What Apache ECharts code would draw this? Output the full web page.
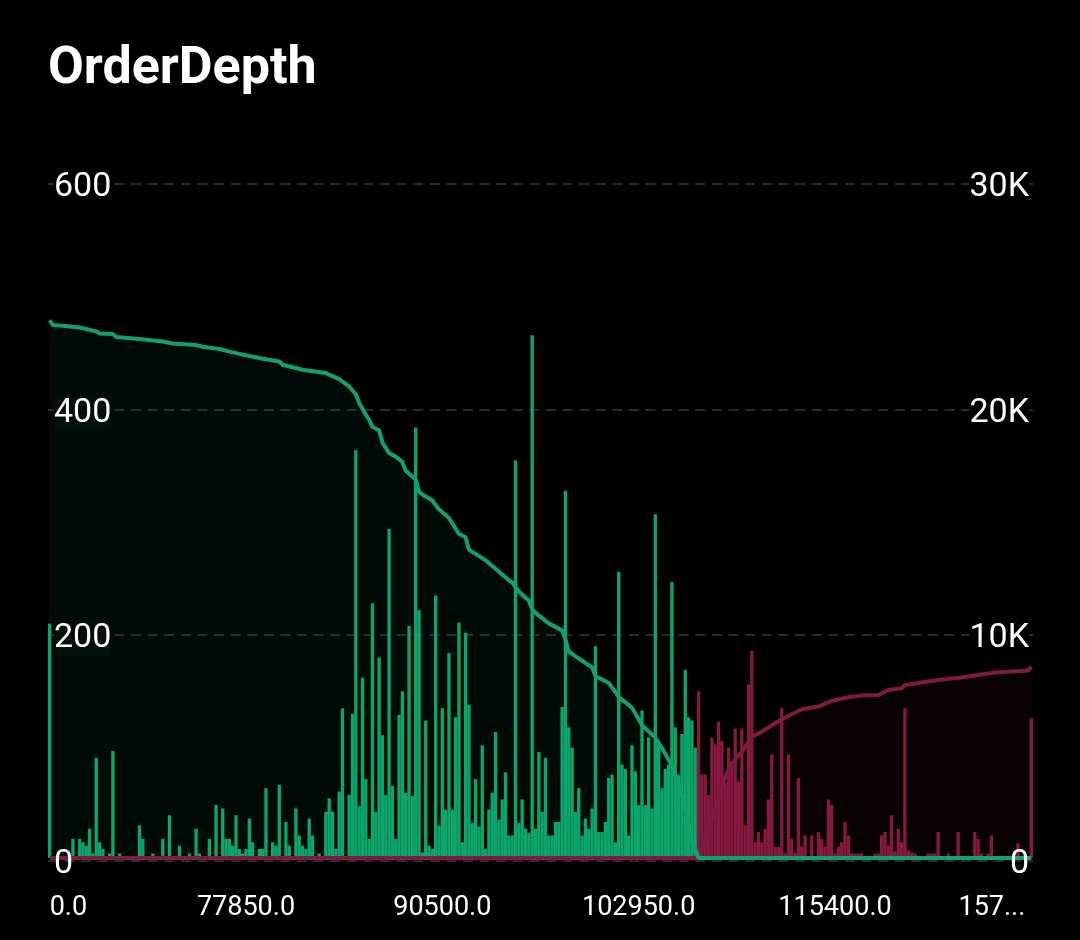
<!DOCTYPE html>
<html lang="en">
  <head>
    <meta charset="UTF-8" />
    <title>OrderDepth</title>
    <style>
      html, body { margin: 0; background: #000; }
      #main { width: 1080px; height: 940px; }
    </style>
  </head>
  <body>
    <script src="https://cdn.jsdelivr.net/npm/echarts@6/dist/echarts.min.js"></script>
    <div id="main"></div>
    <script>
      // tick labels sit every 59 price levels
      const tickLabels = ['0.0', '77850.0', '90500.0', '102950.0', '115400.0', '157...']
      const tickStep = 59
      const levelCount = 296

      // volume per price level
      const buyVolume = [
        208, 0, 0, 0, 0, 0, 0, 17, 0, 17, 14, 11, 26, 4, 89, 14, 8, 1, 4, 95,
        0, 4, 0, 0, 1, 0, 1, 29, 17, 0, 0, 4, 1, 0, 17, 1, 38, 1, 0, 11,
        1, 0, 4, 0, 26, 4, 0, 0, 17, 0, 47, 0, 44, 17, 17, 11, 38, 8, 4, 8,
        35, 14, 0, 8, 8, 62, 0, 14, 11, 65, 1, 32, 11, 0, 44, 20, 11, 8, 35, 20,
        0, 4, 1, 41, 53, 41, 8, 59, 133, 1, 56, 128, 362, 46, 160, 70, 17, 226, 41, 178,
        109, 56, 292, 64, 17, 127, 148, 58, 206, 55, 382, 220, 5, 122, 11, 8, 233, 29, 133, 43,
        182, 43, 125, 209, 14, 200, 136, 31, 70, 28, 100, 8, 43, 58, 112, 34, 52, 76, 20, 20,
        353, 31, 52, 26, 22, 464, 26, 94, 41, 89, 20, 20, 32, 32, 134, 326, 116, 98, 41, 62,
        20, 35, 26, 44, 188, 23, 23, 32, 71, 74, 14, 254, 83, 79, 20, 100, 77, 47, 131, 47,
        107, 44, 305, 100, 62, 79, 83, 245, 116, 74, 110, 167, 125, 122, 98
      ]
      const sellVolume = [
        148, 74, 74, 56, 107, 101, 121, 104, 67, 98, 86, 115, 68, 115, 29, 154, 184, 14, 23, 14,
        26, 52, 92, 10, 10, 133, 4, 92, 17, 5, 71, 10, 20, 2, 20, 0, 23, 17, 10, 52,
        47, 4, 10, 14, 32, 20, 4, 4, 4, 4, 0, 0, 0, 4, 4, 20, 23, 11, 38, 6,
        26, 14, 133, 7, 5, 4, 0, 0, 0, 4, 4, 4, 23, 0, 0, 4, 0, 0, 23, 0,
        0, 0, 0, 23, 17, 4, 0, 4, 20, 0, 0, 0, 0, 0, 0, 0, 13, 0, 0, 0, 124
      ]
      const sellStart = 195

      // cumulative depth, read at the visible bends of each curve
      const buyDepthLevels = [
        0, 1, 4, 9, 14, 15, 19, 20, 27, 34, 37, 44, 46, 51, 56, 64, 69, 70, 76, 83, 87, 90, 92, 93, 95,
        96, 97, 99, 100, 102, 104, 106, 107, 110, 111, 112, 115, 117, 120, 123, 125, 126, 131, 134, 138, 139, 141, 144,
        145, 146, 150, 154, 155, 156, 159, 163, 164, 168, 170, 171, 175, 178, 182, 184, 187, 190, 193, 195, 295
      ]
      const buyDepth = [
        23856, 23650, 23620, 23546, 23369, 23280, 23251, 23119, 23030, 22925, 22835, 22763, 22688, 22586, 22407, 22156, 22036, 21889, 21667, 21520, 21254, 20926, 20583, 20195, 19681,
        19447, 19136, 18980, 18435, 17967, 17812, 17577, 17187, 16800, 16253, 16130, 15864, 15473, 15087, 14386, 14230, 13684, 13213, 12832, 12325, 12232, 11815, 11424,
        11033, 10878, 10412, 10101, 9710, 9164, 8853, 8463, 8076, 7766, 7370, 7140, 6673, 5892, 5350, 4884, 4103, 2800, 800, 0, 0
      ]
      const sellDepthLevels = [
        0, 195, 197, 200, 203, 205, 208, 211, 214, 218, 220, 223, 226, 231, 235, 240, 244, 249, 252, 256, 257, 267, 274, 284, 294, 295
      ]
      const sellDepth = [
        0, 0, 800, 2200, 3610, 4203, 4722, 5387, 5608, 5979, 6157, 6379, 6601, 6719, 6971, 7133, 7208, 7237, 7459, 7533, 7681, 7903, 8006, 8229, 8316, 8496
      ]

      const green = '#0aa66b'
      const greenLine = '#12a16e'
      const red = '#86193f'
      const redLine = '#7f1a41'

      const categories = Array.from({ length: levelCount }, (_, i) => i)
      const pairs = (levels, values) => levels.map((level, i) => [level, values[i]])

      const leftLabel = { '600': 'black', '400': 'tint', '200': 'tint' }
      const labelStyle = {
        black: { backgroundColor: '#000', color: '#fff', fontSize: 34, fontFamily: 'Roboto' },
        tint: { backgroundColor: '#030f09', color: '#fff', fontSize: 34, fontFamily: 'Roboto' }
      }

      const chart = echarts.init(document.getElementById('main'))
      chart.setOption({
        backgroundColor: '#000',
        animation: false,
        title: {
          text: 'OrderDepth',
          left: 43,
          top: 39,
          textStyle: { color: '#fff', fontFamily: 'Roboto', fontWeight: 'bold', fontSize: 52 }
        },
        grid: [
          { left: 48, right: 47, top: 182, bottom: 82 },
          { left: 48, right: 47, top: 184, bottom: 79.5 }
        ],
        xAxis: [
          {
            type: 'category',
            data: categories,
            axisLine: { show: false },
            axisTick: { show: false },
            axisLabel: {
              interval: tickStep - 1,
              margin: 37,
              color: '#fff',
              fontSize: 27,
              fontFamily: 'Roboto',
              alignMinLabel: 'left',
              alignMaxLabel: 'right',
              formatter: (_, index) => {
                const text = tickLabels[index / tickStep]
                return index === levelCount - 1 ? `{last|${text}}` : text
              },
              rich: { last: { color: '#fff', fontSize: 27, fontFamily: 'Roboto', padding: [0, 6, 0, 0] } }
            }
          },
          { type: 'category', gridIndex: 1, data: categories, show: false }
        ],
        yAxis: [
          { type: 'value', min: 0, max: 600, show: false },
          { type: 'value', min: 0, max: 30000, show: false },
          // dashed lines only, under the marks
          {
            type: 'value',
            gridIndex: 1,
            min: 0,
            max: 600,
            interval: 200,
            z: 0,
            axisLine: { show: false },
            axisTick: { show: false },
            axisLabel: { show: false },
            splitLine: { lineStyle: { color: '#272a2e', width: 2, type: [10, 6.6] } }
          },
          // labels go above the marks
          {
            type: 'value',
            gridIndex: 1,
            position: 'left',
            min: 0,
            max: 600,
            interval: 200,
            z: 10,
            axisLine: { show: false },
            axisTick: { show: false },
            splitLine: { show: false },
            axisLabel: {
              inside: true,
              margin: 6,
              padding: [7, 0, 0, 0],
              color: '#fff',
              fontSize: 34,
              fontFamily: 'Roboto',
              formatter: v => (v ? `{${leftLabel[v]}|${v}}` : '0'),
              rich: labelStyle
            }
          },
          {
            type: 'value',
            gridIndex: 1,
            position: 'right',
            min: 0,
            max: 30000,
            interval: 10000,
            z: 10,
            axisLine: { show: false },
            axisTick: { show: false },
            splitLine: { show: false },
            axisLabel: {
              inside: true,
              margin: 4,
              padding: [7, 0, 0, 0],
              color: '#fff',
              fontSize: 34,
              fontFamily: 'Roboto',
              formatter: v => (v ? `{black|${v / 1000}K}` : '0'),
              rich: labelStyle
            }
          }
        ],
        series: [
          {
            type: 'line',
            yAxisIndex: 1,
            data: pairs(sellDepthLevels, sellDepth),
            symbol: 'none',
            lineStyle: { color: redLine, width: 4 },
            areaStyle: { color: 'rgba(130, 25, 65, 0.1)' }
          },
          {
            type: 'bar',
            data: buyVolume,
            barWidth: '100%',
            barGap: '-100%',
            itemStyle: { color: green }
          },
          {
            type: 'bar',
            data: sellVolume.map((v, i) => [sellStart + i, v]),
            barWidth: '100%',
            barGap: '-100%',
            itemStyle: { color: red }
          },
          {
            type: 'line',
            yAxisIndex: 1,
            data: pairs(buyDepthLevels, buyDepth),
            symbol: 'none',
            lineStyle: { color: greenLine, width: 4 },
            areaStyle: { color: 'rgba(16, 170, 110, 0.09)' }
          }
        ]
      })
    </script>
  </body>
</html>
